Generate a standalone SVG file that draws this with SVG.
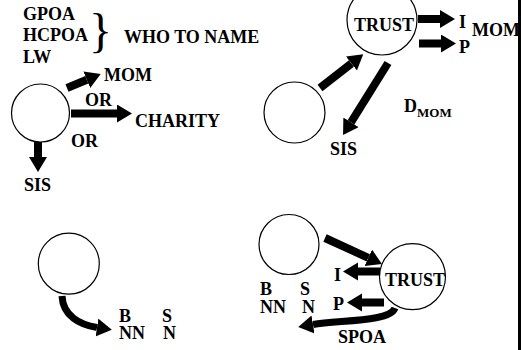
<svg xmlns="http://www.w3.org/2000/svg" width="521" height="350" viewBox="0 0 521 350" font-family="'Liberation Serif', 'Times New Roman', 'DejaVu Serif', serif">
  <style>
    text { font-family: 'Liberation Serif', 'Times New Roman', 'DejaVu Serif', serif; font-weight: 700; font-size: 18px; fill: #000; }
    .sub { font-size: 13px; }
    .brace { font-size: 48px; font-weight: 400; }
    .node { fill: #fff; stroke: #000; stroke-width: 1.2; }
    .arrow { fill: none; stroke: #000; stroke-width: 8; marker-end: url(#head); }
    .curve { fill: none; stroke: #000; stroke-width: 7; marker-end: url(#head); }
  </style>
  <defs>
    <marker id="head" markerUnits="userSpaceOnUse" markerWidth="16" markerHeight="20" refX="0" refY="9" orient="auto">
      <path d="M0,0 L15,9 L0,18 Z" fill="#000"/>
    </marker>
  </defs>
  <rect width="521" height="350" fill="#fff"/>

  <!-- heading: roles to name -->
  <g id="roles">
    <text x="23" y="20">GPOA</text>
    <text x="23" y="41">HCPOA</text>
    <text x="23" y="63">LW</text>
    <text class="brace" x="89" y="47">}</text>
    <text x="124" y="43">WHO TO NAME</text>
  </g>

  <!-- top-left: person and choices -->
  <g id="person-a">
    <circle class="node" cx="40.5" cy="113" r="29"/>
  </g>
  <g id="label-mom-a"><text x="104" y="81">MOM</text></g>
  <g id="label-or-1"><text x="85" y="106">OR</text></g>
  <g id="label-charity"><text x="135" y="127">CHARITY</text></g>
  <g id="label-or-2"><text x="71" y="147">OR</text></g>
  <g id="label-sis-a"><text x="24" y="191">SIS</text></g>

  <!-- top-right: trust with beneficiaries -->
  <g id="person-b">
    <circle class="node" cx="294.5" cy="112.5" r="30.5"/>
  </g>
  <g id="trust-a">
    <circle class="node" cx="382" cy="20" r="35"/>
    <text x="354" y="31">TRUST</text>
  </g>
  <g id="label-i-a"><text x="459" y="28">I</text></g>
  <g id="label-p-a"><text x="459" y="53">P</text></g>
  <g id="label-mom-b"><text x="472" y="36">MOM</text></g>
  <g id="label-sis-b"><text x="330" y="155">SIS</text></g>
  <g id="label-dmom"><text x="404" y="112">D<tspan class="sub" dy="5">MOM</tspan></text></g>

  <!-- bottom-left: person and B/S, NN/N -->
  <g id="person-c">
    <circle class="node" cx="68.8" cy="263.7" r="30.5"/>
  </g>
  <g id="label-bs-c">
    <text x="119" y="322">B</text>
    <text x="162" y="322">S</text>
    <text x="119" y="339">NN</text>
    <text x="163" y="339">N</text>
  </g>

  <!-- bottom-right: person, trust, SPOA -->
  <g id="person-d">
    <circle class="node" cx="289" cy="244.5" r="30"/>
  </g>
  <g id="trust-b">
    <circle class="node" cx="412.5" cy="276.7" r="33"/>
    <text x="385" y="286">TRUST</text>
  </g>
  <g id="label-bs-d">
    <text x="260" y="295">B</text>
    <text x="300" y="295">S</text>
    <text x="260" y="313">NN</text>
    <text x="302" y="313">N</text>
  </g>
  <g id="label-i-d"><text x="334" y="281">I</text></g>
  <g id="label-p-d"><text x="333" y="310">P</text></g>
  <g id="label-spoa"><text x="338" y="343">SPOA</text></g>

  <!-- connectors -->
  <g id="connectors">
    <line class="arrow" x1="67" y1="88" x2="86.8" y2="79.8"/>
    <line class="arrow" x1="71" y1="113.5" x2="117" y2="113.5"/>
    <line class="arrow" x1="38" y1="142" x2="38" y2="157"/>
    <line class="arrow" x1="320" y1="88" x2="351.4" y2="63.5"/>
    <line class="arrow" x1="388" y1="63" x2="351" y2="122.3"/>
    <line class="arrow" x1="418" y1="19" x2="440" y2="19"/>
    <line class="arrow" x1="419" y1="43.5" x2="441" y2="43.5"/>
    <path class="curve" d="M62,296 C63,316 80,325 97,327.5"/>
    <line class="arrow" x1="325" y1="238" x2="368.3" y2="257.8"/>
    <line class="arrow" x1="380" y1="271.5" x2="358" y2="271.5"/>
    <line class="arrow" x1="384" y1="302.5" x2="362" y2="302.5"/>
    <path class="curve" d="M395,308 C390,322 340,320 313,324.5"/>
  </g>

  <!-- right-hand rule -->
  <rect x="518" y="0" width="3" height="350" fill="#000"/>
</svg>
